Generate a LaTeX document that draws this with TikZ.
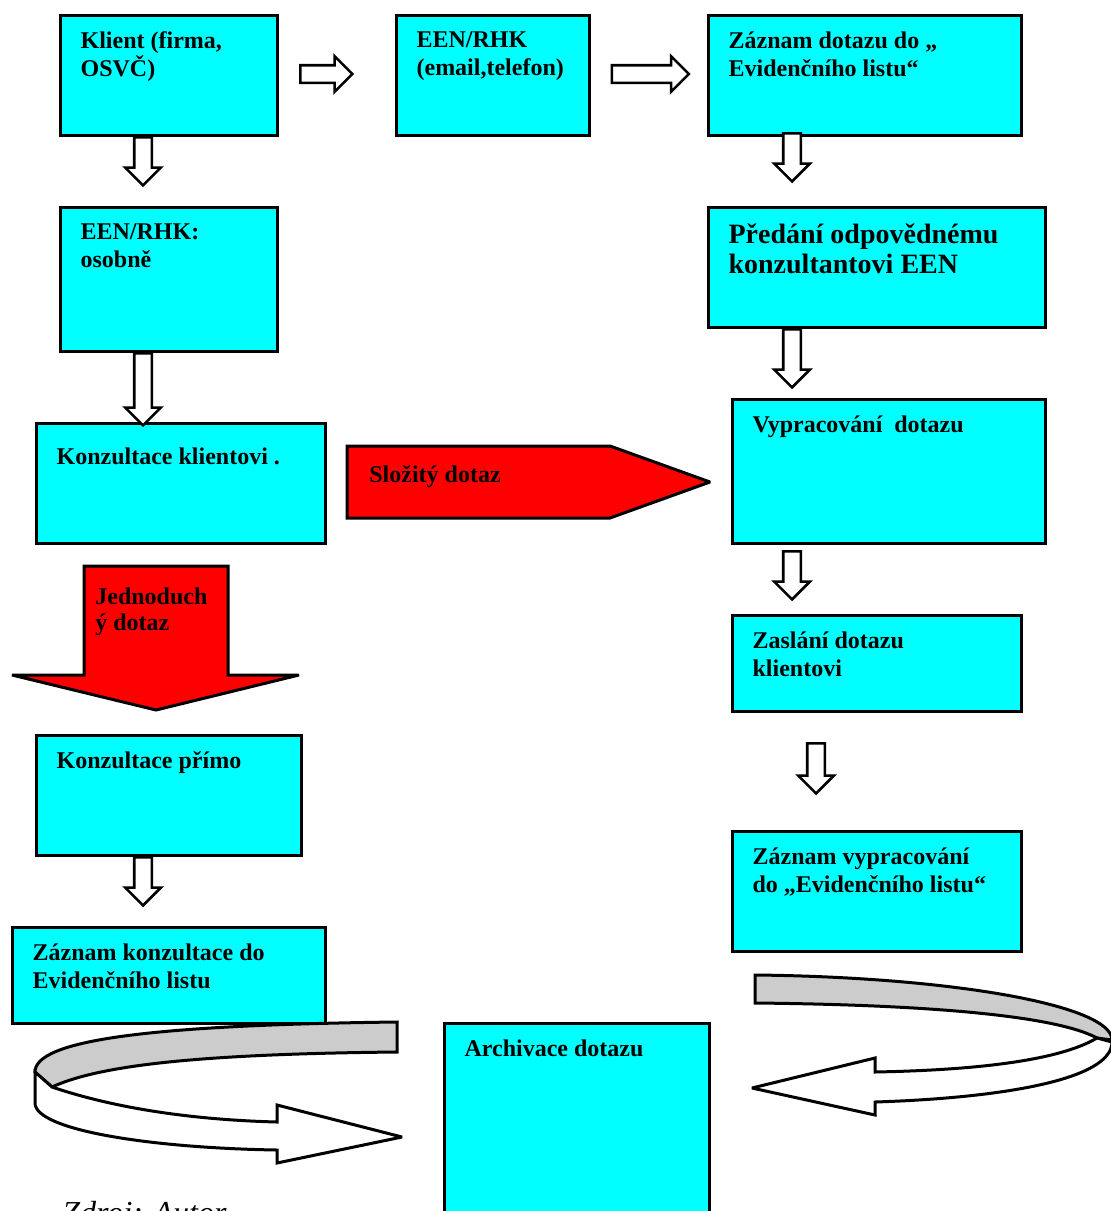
\documentclass[tikz,border=0pt]{standalone}
\usepackage{fontspec}
\setmainfont{Liberation Serif}
\usetikzlibrary{shapes.arrows}

\definecolor{boxcyan}{HTML}{00FFFF}
\definecolor{ribgray}{HTML}{CCCCCC}

% text of a box: width, height, lines
\newcommand{\boxtxt}[3]{\begin{minipage}[t][\dimexpr#2+2pt][t]{\dimexpr#1+2pt}\raggedright
  \hyphenpenalty=10000 #3\end{minipage}}

\begin{document}
\begin{tikzpicture}[x=0.5pt, y=-0.5pt]
\tikzstyle{box}=[draw, line width=1.6pt, fill=boxcyan, anchor=north west,
                 inner xsep=10pt, inner ysep=8pt,
                 font=\fontsize{12}{14}\selectfont\bfseries]
\tikzstyle{arr}=[single arrow, draw, line width=1.3pt, fill=white,
                 inner sep=3.75pt, single arrow head extend=4.5pt]
\tikzstyle{darr}=[arr, rotate=-90]
\tikzstyle{redarr}=[draw, line width=1.5pt, fill=red, miter limit=2]
\tikzstyle{ribbon}=[draw, line width=1.5pt, miter limit=3]
\tikzstyle{lbl}=[inner sep=0pt, align=left,
                 font=\fontsize{12}{13}\selectfont\bfseries]
\useasboundingbox (0,0) rectangle (1111,1211);

% left column
\node[box] (klient) at (59,14) {\boxtxt{86.5pt}{42pt}{Klient (firma,\\ OSVČ)}};
\node[box] (osobne) at (59,206) {\boxtxt{86.5pt}{54pt}{EEN/RHK:\\ osobně}};
\node[box] (konzkl) at (35,422) {\boxtxt{122.5pt}{42pt}{\vspace*{4pt}Konzultace klientovi .}};
\node[box] (primo) at (35,734) {\boxtxt{110.5pt}{42pt}{Konzultace přímo}};
\node[box] (zazkonz) at (11,926) {\boxtxt{134.5pt}{30pt}{Záznam konzultace do\\ Evidenčního listu}};

% middle
\node[box] (email) at (395,14) {\boxtxt{74.5pt}{42pt}{EEN/RHK\\ (email,telefon)}};
\node[box] (archiv) at (443,1022) {\boxtxt{110.5pt}{82pt}{Archivace dotazu}};

% right column
\node[box] (zazdot) at (707,14) {\boxtxt{134.5pt}{42pt}{Záznam dotazu do „\\ Evidenčního listu“}};
\node[box, font=\fontsize{14}{15}\selectfont\bfseries] (predani) at (707,206)
  {\boxtxt{146.5pt}{42pt}{Předání odpovědnému\\ konzultantovi EEN}};
\node[box] (vyprac) at (731,398) {\boxtxt{134.5pt}{54pt}{Vypracování~~dotazu}};
\node[box] (zaslani) at (731,614) {\boxtxt{122.5pt}{30pt}{Zaslání dotazu\\ klientovi}};
\node[box] (zazvyp) at (731,830) {\boxtxt{122.5pt}{42pt}{Záznam vypracování\\ do „Evidenčního listu“}};

% hollow arrows
\node[arr, minimum height=26pt] (r1) at (322,74) {};
\node[arr, minimum height=38.5pt] (r2) at (646,74) {};
\node[darr, minimum height=24pt] (d1) at (143,157) {};
\node[darr, minimum height=36pt] (d2) at (143,385) {};
\node[darr, minimum height=24pt] (d3) at (143,877) {};
\node[darr, minimum height=24pt] (d4) at (792,153) {};
\node[darr, minimum height=29pt] (d5) at (792,354) {};
\node[darr, minimum height=24pt] (d6) at (792,571) {};
\node[darr, minimum height=25pt] (d7) at (816,764) {};

% red arrows
\draw[redarr] (347,446) -- (610,446) -- (710,482) -- (610,518) -- (347,518) -- cycle;
\node[lbl, anchor=base west] (slozity) at (369,482) {Složitý dotaz};
\draw[redarr] (84,566) -- (228,566) -- (228,675) -- (299,675) -- (156,710)
  -- (12,675) -- (84,675) -- cycle;
\node[lbl, anchor=north west] (jedn) at (95,587) {Jednoduch\\ý dotaz};

% turning ribbons into the archive
\draw[ribbon, fill=ribgray] (397,1022) .. controls (150,1025) and (35,1040) .. (35,1072)
  -- (52,1087) .. controls (100,1065) and (200,1054) .. (397,1052) -- cycle;
\draw[ribbon, fill=white] (35,1072) -- (52,1087) .. controls (120,1110) and (200,1120) .. (277,1122)
  -- (277,1105) -- (402,1137) -- (277,1163) -- (277,1150)
  .. controls (150,1148) and (35,1130) .. (35,1103) -- cycle;
\draw[ribbon, fill=ribgray] (755,975) .. controls (950,977) and (1112,1005) .. (1112,1040)
  -- (1097,1038) .. controls (1060,1018) and (950,1005) .. (755,1003) -- cycle;
\draw[ribbon, fill=white] (1097,1038) .. controls (1060,1060) and (980,1070) .. (875,1072)
  -- (875,1058) -- (752,1088) -- (875,1115) -- (875,1102)
  .. controls (1000,1098) and (1112,1080) .. (1112,1042) -- cycle;

\node[inner sep=0pt, anchor=north west, font=\fontsize{16}{16}\selectfont\itshape]
  (zdroj) at (62,1201) {Zdroj: Autor};
\end{tikzpicture}
\end{document}
